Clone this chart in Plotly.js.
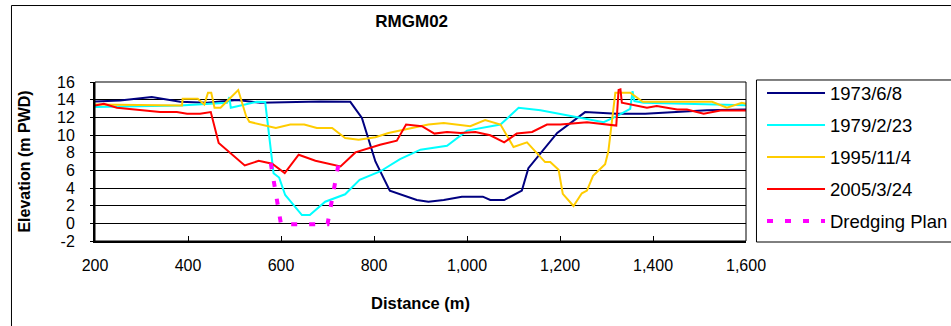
<!DOCTYPE html>
<html>
<head>
<meta charset="utf-8">
<script src="https://cdn.plot.ly/plotly-3.0.1.min.js"></script>
<style>
html,body{margin:0;padding:0;background:#fff;}
#chart{width:951px;height:326px;}
</style>
</head>
<body>
<div id="chart"></div>
<script>
// ---- data ----
const seriesNames = ['1973/6/8', '1979/2/23', '1995/11/4', '2005/3/24', 'Dredging Plan'];

const x1973 = [200, 254, 322, 383, 441, 505, 555, 600, 640, 685, 749, 774, 803, 834, 892, 917, 950, 989, 1034, 1050, 1080, 1118, 1132, 1194, 1254, 1322, 1383, 1452, 1516, 1600];
const y1973 = [13.8, 13.9, 14.3, 13.76, 13.65, 13.95, 13.65, 13.7, 13.76, 13.8, 13.76, 11.94, 7.0, 3.7, 2.64, 2.45, 2.64, 3.02, 3.02, 2.64, 2.64, 3.7, 6.25, 10.23, 12.59, 12.4, 12.4, 12.6, 12.8, 12.9];

const x1979 = [200, 383, 484, 489, 492, 548, 566, 584, 596, 609, 645, 662, 695, 738, 769, 813, 856, 900, 957, 1000, 1072, 1111, 1158, 1294, 1322, 1351, 1356, 1360, 1380, 1502, 1600];
const y1979 = [13.16, 13.35, 13.65, 14.3, 13.08, 13.76, 13.73, 5.68, 5.18, 3.21, 0.93, 0.93, 2.45, 3.29, 4.92, 5.87, 7.27, 8.34, 8.79, 10.5, 11.18, 13.08, 12.8, 11.45, 12.13, 12.97, 14.97, 13.84, 13.65, 13.46, 13.38];

const x1995 = [200, 312, 387, 388.5, 421, 435, 443, 450, 457, 470, 508, 525, 532, 589, 620, 650, 677, 710, 738, 767, 803, 831, 871, 917, 950, 1007, 1039, 1072, 1100, 1129, 1168, 1179, 1197, 1206, 1229, 1247, 1258, 1271, 1297, 1304, 1319, 1351, 1378, 1527, 1559, 1591, 1600];
const y1995 = [13.46, 13.35, 13.35, 14.1, 14.1, 13.46, 14.79, 14.79, 13.08, 13.08, 15.09, 12.13, 11.49, 10.8, 11.18, 11.18, 10.8, 10.8, 9.66, 9.47, 9.74, 10.23, 10.69, 11.18, 11.37, 10.99, 11.68, 11.18, 8.64, 9.17, 6.93, 6.93, 6.06, 3.33, 1.96, 3.4, 3.7, 5.37, 6.7, 8.15, 14.79, 14.79, 13.76, 13.76, 13.08, 13.65, 13.54];

const x2005 = [200, 219, 247, 340, 376, 398, 426, 449, 466, 522, 552, 581, 608, 638, 674, 728, 760, 813, 849, 869, 903, 930, 957, 986, 1018, 1050, 1080, 1107, 1140, 1172, 1201, 1258, 1321, 1326, 1330, 1333, 1387, 1408, 1452, 1473, 1509, 1545, 1600];
const y2005 = [13.35, 13.54, 13.08, 12.59, 12.59, 12.4, 12.4, 12.59, 9.1, 6.55, 7.08, 6.74, 5.68, 7.77, 7.08, 6.44, 8.03, 8.9, 9.36, 11.18, 10.99, 10.16, 10.35, 10.23, 10.35, 9.97, 9.17, 10.16, 10.35, 11.18, 11.18, 11.45, 11.07, 15.09, 15.17, 13.65, 13.08, 13.27, 12.89, 12.89, 12.4, 12.78, 12.78];

const xDredge = [578, 600, 700, 724];
const yDredge = [6.8, -0.1, -0.1, 6.8];

const xTickVals = [200, 400, 600, 800, 1000, 1200, 1400, 1600];
const xTickText = ['200', '400', '600', '800', '1,000', '1,200', '1,400', '1,600'];
const yTickVals = [-2, 0, 2, 4, 6, 8, 10, 12, 14, 16];
const yTickText = ['-2', '0', '2', '4', '6', '8', '10', '12', '14', '16'];

// ---- chart ----
const FONT = 'Arial, "Liberation Sans", sans-serif';
const colors = ['#000080', '#00FFFF', '#FFCC00', '#FF0000', '#FF00FF'];
const xs = [x1973, x1979, x1995, x2005, xDredge];
const ys = [y1973, y1979, y1995, y2005, yDredge];

const traces = seriesNames.map((name, i) => ({
  type: 'scatter',
  mode: 'lines',
  name: name,
  x: xs[i],
  y: ys[i],
  legendgroup: 'g' + i,
  line: i === 4
    ? {color: colors[i], width: 4, dash: '6px,12px'}
    : {color: colors[i], width: 2}
}));

const layout = {
  width: 951,
  height: 326,
  margin: {l: 95, r: 205, t: 82, b: 85, pad: 0, autoexpand: false},
  paper_bgcolor: '#fff',
  plot_bgcolor: '#fff',
  font: {family: FONT, color: '#000'},
  title: {
    text: '<b>RMGM02</b>',
    font: {family: FONT, size: 17, color: '#000'},
    x: 0.4865, xref: 'paper', xanchor: 'center',
    y: 0.9356, yref: 'container', yanchor: 'middle'
  },
  xaxis: {
    range: [200, 1600],
    tickmode: 'array', tickvals: xTickVals, ticktext: xTickText,
    ticks: 'inside', ticklen: 5, tickcolor: '#000', tickwidth: 1,
    showline: true, linecolor: '#000', linewidth: 2,
    showgrid: false, zeroline: false,
    tickfont: {family: FONT, size: 16, color: '#000'},
    ticklabelstandoff: 9,
    title: {text: '<b>Distance (m)</b>', font: {family: FONT, size: 16.5, color: '#000'}, standoff: 24}
  },
  yaxis: {
    range: [-2, 16],
    tickmode: 'array', tickvals: yTickVals, ticktext: yTickText,
    ticks: 'outside', ticklen: 3, tickcolor: '#000', tickwidth: 1,
    showline: true, linecolor: '#000', linewidth: 2,
    showgrid: true, gridcolor: '#000', gridwidth: 1, zeroline: false,
    tickfont: {family: FONT, size: 16, color: '#000'},
    ticklabelstandoff: 12,
    title: {text: '<b>Elevation (m PWD)</b>', font: {family: FONT, size: 16, color: '#000'}, standoff: 22}
  },
  showlegend: true,
  legend: {
    x: 1.0246, xanchor: 'left', xref: 'paper',
    y: 1.0466, yanchor: 'top', yref: 'paper',
    font: {family: FONT, size: 18.5, color: '#000'},
    bgcolor: 'rgba(0,0,0,0)', borderwidth: 0,
    itemwidth: 58, traceorder: 'grouped', tracegroupgap: 4.95
  },
  shapes: [
    // plot area frame (top/right)
    {type: 'rect', xref: 'paper', yref: 'paper', x0: 0, x1: 1, y0: 0, y1: 1, line: {color: '#000', width: 1}, layer: 'above'},
    // legend box
    {type: 'rect', xref: 'paper', yref: 'paper', x0: 1.0161, x1: 2, y0: -0.0063, y1: 1.0126, line: {color: '#000', width: 1}},
    // outer chart border
    {type: 'rect', xref: 'paper', yref: 'paper', x0: -0.1283, x1: 2, y0: -0.7, y1: 1.481, line: {color: '#000', width: 1}}
  ]
};

Plotly.newPlot('chart', traces, layout, {displayModeBar: false, staticPlot: true});
</script>
</body>
</html>
